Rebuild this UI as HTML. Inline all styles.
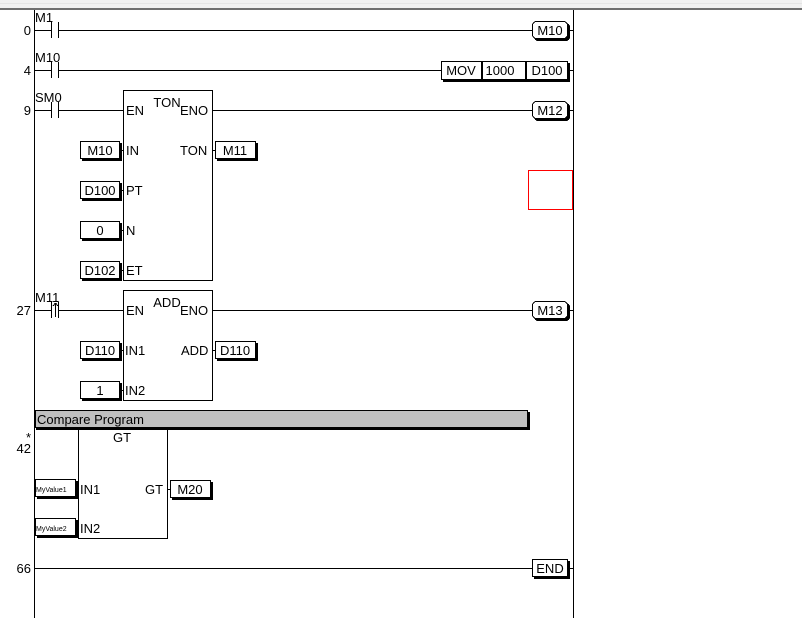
<!DOCTYPE html>
<html><head><meta charset="utf-8"><style>
html,body{margin:0;padding:0;background:#fff;width:802px;height:618px;overflow:hidden}
svg{display:block}
text{font-family:"Liberation Sans",sans-serif;font-size:13px;fill:#000}
</style></head><body>
<svg width="802" height="618" viewBox="0 0 802 618" xmlns="http://www.w3.org/2000/svg">
<rect x="0" y="0" width="802" height="8" fill="#f0f0f0"/>
<rect x="0" y="3" width="802" height="1" fill="#e4e4e4"/>
<rect x="0" y="8" width="802" height="2" fill="#6e6e6e"/>
<g stroke="#000" stroke-width="1" fill="none" shape-rendering="crispEdges">
<line x1="34.5" y1="10" x2="34.5" y2="618"/>
<line x1="573.5" y1="10" x2="573.5" y2="618"/>
<!-- rung 0 -->
<line x1="34" y1="30.5" x2="51" y2="30.5"/><line x1="51.5" y1="22" x2="51.5" y2="38"/><line x1="58.5" y1="22" x2="58.5" y2="38"/><line x1="59" y1="30.5" x2="532" y2="30.5"/>
<line x1="568" y1="30.5" x2="573" y2="30.5"/>
<!-- rung 4 -->
<line x1="34" y1="70.5" x2="51" y2="70.5"/><line x1="51.5" y1="62" x2="51.5" y2="78"/><line x1="58.5" y1="62" x2="58.5" y2="78"/><line x1="59" y1="70.5" x2="441" y2="70.5"/>
<line x1="568" y1="70.5" x2="573" y2="70.5"/>
<!-- rung 9 -->
<line x1="34" y1="110.5" x2="51" y2="110.5"/><line x1="51.5" y1="102" x2="51.5" y2="118"/><line x1="58.5" y1="102" x2="58.5" y2="118"/><line x1="59" y1="110.5" x2="123" y2="110.5"/>
<line x1="212" y1="110.5" x2="532" y2="110.5"/><line x1="568" y1="110.5" x2="573" y2="110.5"/>
<rect x="123.5" y="90.5" width="89" height="190"/>
<line x1="120" y1="150.5" x2="123" y2="150.5"/><line x1="120" y1="190.5" x2="123" y2="190.5"/><line x1="120" y1="230.5" x2="123" y2="230.5"/><line x1="120" y1="270.5" x2="123" y2="270.5"/>
<line x1="212" y1="150.5" x2="215" y2="150.5"/>
<!-- rung 27 -->
<line x1="34" y1="310.5" x2="51" y2="310.5"/><line x1="51.5" y1="302" x2="51.5" y2="318"/><line x1="58.5" y1="302" x2="58.5" y2="318"/><line x1="59" y1="310.5" x2="123" y2="310.5"/>
<line x1="55.5" y1="303" x2="55.5" y2="317"/><line x1="53" y1="306" x2="55.5" y2="303"/><line x1="58" y1="306" x2="55.5" y2="303"/>
<line x1="212" y1="310.5" x2="532" y2="310.5"/><line x1="568" y1="310.5" x2="573" y2="310.5"/>
<rect x="123.5" y="290.5" width="89" height="110"/>
<line x1="120" y1="350.5" x2="123" y2="350.5"/><line x1="120" y1="390.5" x2="123" y2="390.5"/><line x1="212" y1="350.5" x2="215" y2="350.5"/>
<!-- GT -->
<rect x="78.5" y="428.5" width="89" height="110"/>
<line x1="76" y1="489.5" x2="78" y2="489.5"/><line x1="76" y1="528.5" x2="78" y2="528.5"/><line x1="167" y1="489.5" x2="170" y2="489.5"/>
<!-- rung 66 -->
<line x1="34" y1="568.5" x2="532" y2="568.5"/><line x1="568" y1="568.5" x2="573" y2="568.5"/>
</g>
<!-- compare bar -->
<rect x="36" y="412" width="494" height="18" fill="#000"/>
<rect x="35.5" y="410.5" width="492" height="17" fill="#c0c0c0" stroke="#000" shape-rendering="crispEdges"/>
<text x="37" y="424">Compare Program</text>
<!-- red rect -->
<rect x="528.5" y="170.5" width="44" height="39" fill="none" stroke="#f00" shape-rendering="crispEdges"/>
<!-- row numbers -->
<g text-anchor="end"><text x="31" y="35">0</text><text x="31" y="75">4</text><text x="31" y="115">9</text><text x="31" y="315">27</text><text x="31" y="442">*</text><text x="31" y="453">42</text><text x="31" y="573">66</text></g>
<!-- contact labels -->
<text x="35" y="22">M1</text><text x="35" y="62">M10</text><text x="35" y="102">SM0</text><text x="35" y="302">M11</text>
<!-- boxes with shadow -->
<g shape-rendering="crispEdges">
<g fill="#000">
<rect x="534" y="23" width="36" height="18" rx="4"/><rect x="534" y="103" width="36" height="18" rx="4"/><rect x="534" y="303" width="36" height="18" rx="4"/>
<rect x="443" y="63" width="127" height="19"/>
<rect x="82" y="143" width="40" height="18"/><rect x="217" y="143" width="41" height="18"/>
<rect x="82" y="183" width="40" height="18"/><rect x="82" y="223" width="40" height="18"/><rect x="82" y="263" width="40" height="18"/>
<rect x="82" y="343" width="40" height="18"/><rect x="217" y="343" width="41" height="18"/><rect x="82" y="383" width="40" height="18"/>
<rect x="37" y="481" width="41" height="18"/><rect x="37" y="520" width="41" height="18"/><rect x="172" y="482" width="41" height="18"/>
<rect x="534" y="561" width="36" height="18"/>
</g>
<g fill="#fff" stroke="#000">
<rect x="532.5" y="21.5" width="35" height="17" rx="4"/><rect x="532.5" y="101.5" width="35" height="17" rx="4"/><rect x="532.5" y="301.5" width="35" height="17" rx="4"/>
<rect x="441.5" y="61.5" width="40" height="18"/><rect x="482.5" y="61.5" width="43" height="18"/><rect x="526.5" y="61.5" width="41" height="18"/>
<rect x="80.5" y="141.5" width="39" height="17"/><rect x="215.5" y="141.5" width="40" height="17"/>
<rect x="80.5" y="181.5" width="39" height="17"/><rect x="80.5" y="221.5" width="39" height="17"/><rect x="80.5" y="261.5" width="39" height="17"/>
<rect x="80.5" y="341.5" width="39" height="17"/><rect x="215.5" y="341.5" width="40" height="17"/><rect x="80.5" y="381.5" width="39" height="17"/>
<rect x="35.5" y="479.5" width="40" height="17"/><rect x="35.5" y="518.5" width="40" height="17"/><rect x="170.5" y="480.5" width="40" height="17"/>
<rect x="532.5" y="559.5" width="35" height="17"/>
</g>
</g>
<g text-anchor="middle">
<text x="550" y="35">M10</text><text x="550" y="115">M12</text><text x="550" y="315">M13</text><text x="550" y="573">END</text>
<text x="461" y="75">MOV</text><text x="500" y="75">1000</text><text x="547" y="75">D100</text>
<text x="100" y="155">M10</text><text x="235" y="155">M11</text><text x="100" y="195">D100</text><text x="100" y="235">0</text><text x="100" y="275">D102</text>
<text x="100" y="355">D110</text><text x="235" y="355">D110</text><text x="100" y="395">1</text>
<text x="190" y="494">M20</text>
<text x="167" y="107">TON</text><text x="167" y="307">ADD</text><text x="122" y="442">GT</text>
</g>
<text x="36" y="492" style="font-size:7px">MyValue1</text><text x="36" y="531" style="font-size:7px">MyValue2</text>
<text x="126" y="115">EN</text><text x="180" y="115">ENO</text><text x="126" y="155">IN</text><text x="180" y="155">TON</text>
<text x="126" y="195">PT</text><text x="126" y="235">N</text><text x="126" y="275">ET</text>
<text x="126" y="315">EN</text><text x="180" y="315">ENO</text><text x="125" y="355">IN1</text><text x="181" y="355">ADD</text><text x="125" y="395">IN2</text>
<text x="80" y="494">IN1</text><text x="145" y="494">GT</text><text x="80" y="533">IN2</text>
</svg>
</body></html>
